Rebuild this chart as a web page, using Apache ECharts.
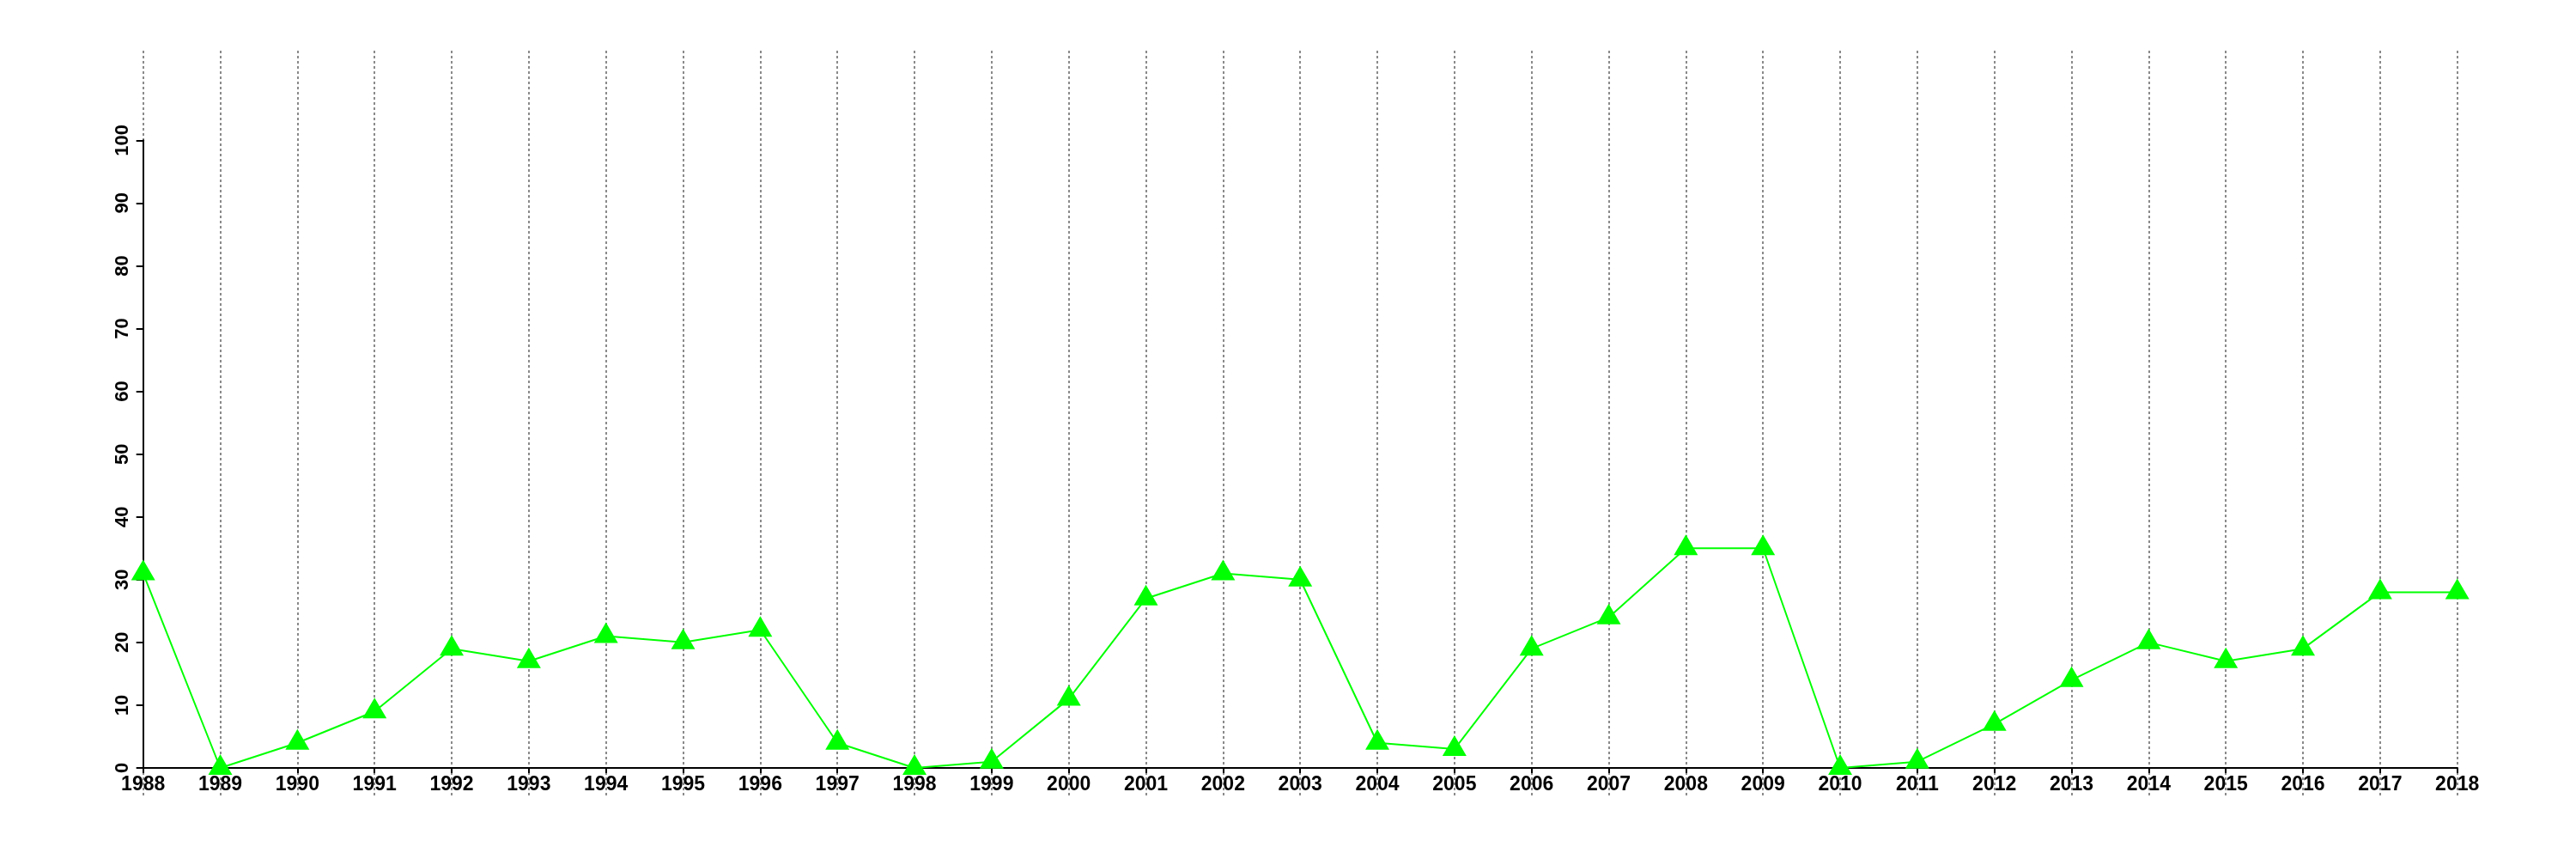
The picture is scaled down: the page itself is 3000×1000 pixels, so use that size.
<!DOCTYPE html>
<html>
<head>
<meta charset="utf-8">
<script src="https://cdn.jsdelivr.net/npm/echarts@6/dist/echarts.min.js"></script>
<style>
html,body{margin:0;padding:0;background:#fff;}
#chart{width:3000px;height:1000px;}
</style>
</head>
<body>
<div id="chart"></div>
<script>
const years = ['1988','1989','1990','1991','1992','1993','1994','1995','1996','1997','1998','1999','2000','2001','2002','2003','2004','2005','2006','2007','2008','2009','2010','2011','2012','2013','2014','2015','2016','2017','2018'];
const values = [31,0,4,9,19,17,21,20,22,4,0,1,11,27,31,30,4,3,19,24,35,35,0,1,7,14,20,17,19,28,28];
const yTicks = [0,10,20,30,40,50,60,70,80,90,100];

const FONT = '"Liberation Sans", Arial, sans-serif';
const chart = echarts.init(document.getElementById('chart'), null, {renderer:'canvas'});
chart.setOption({
  backgroundColor:'#ffffff',
  animation:false,
  grid:[
    {left:166.7, right:138.3, top:163.3, bottom:106},
    {left:166.7, right:138.3, top:59, bottom:73}
  ],
  xAxis:[
    {
      type:'category', gridIndex:0, data:years, boundaryGap:false,
      axisLine:{show:true, onZero:false, lineStyle:{color:'#000', width:2}},
      axisTick:{show:true, alignWithLabel:true, length:6, lineStyle:{color:'#000', width:2}},
      axisLabel:{show:true, interval:0, color:'#000', fontFamily:FONT, fontWeight:'bold', fontSize:23, margin:8},
      splitLine:{show:false}
    },
    {
      type:'category', gridIndex:1, data:years, boundaryGap:false,
      axisLine:{show:false}, axisTick:{show:false}, axisLabel:{show:false},
      splitLine:{show:true, interval:0, lineStyle:{color:'#6e6e6e', width:1.6, type:[3,3]}}
    }
  ],
  yAxis:[
    {
      type:'value', gridIndex:0, min:0, max:100, interval:10,
      axisLine:{show:true, lineStyle:{color:'#000', width:2}},
      axisTick:{show:true, length:8, lineStyle:{color:'#000', width:2}},
      axisLabel:{show:true, rotate:90, color:'#000', fontFamily:FONT, fontWeight:'bold', fontSize:22, margin:13,
        formatter:function(v){return yTicks.indexOf(v)>=0?String(v):'';}},
      splitLine:{show:false}
    },
    {
      type:'value', gridIndex:1, min:0, max:1, show:false,
      splitLine:{show:false}
    }
  ],
  series:[
    {
      type:'line', xAxisIndex:0, yAxisIndex:0, data:values,
      symbol:'triangle', symbolSize:[28,24], symbolOffset:[0,-4],
      lineStyle:{color:'#00ff00', width:2},
      itemStyle:{color:'#00ff00', borderWidth:0},
      z:5
    }
  ]
});
</script>
</body>
</html>
